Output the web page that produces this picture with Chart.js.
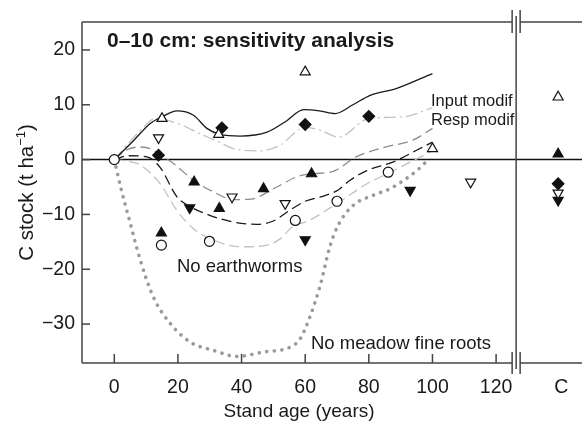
<!DOCTYPE html>
<html>
<head>
<meta charset="utf-8">
<script src="https://cdn.jsdelivr.net/npm/chart.js@4"></script>
<style>
  html, body { margin: 0; padding: 0; background: #fff; }
  canvas { display: block; }
</style>
</head>
<body>
<canvas id="chart" width="582" height="425"></canvas>
<script>
const FONT = "'Liberation Sans', Arial, Helvetica, sans-serif";

// axis setup
const xTicks = [0, 20, 40, 60, 80, 100, 120];
const yTicks = [-30, -20, -10, 0, 10, 20];
const C_POS = 139.5;   // where the control "C" points sit
const C_TICK = 140.5;  // where the "C" label sits
const BREAK_AT = 126.3;

// model curves, [stand age, C stock]
const inputModif = [[0, 0], [6.1, 3.5], [11.3, 6.6], [15, 7.8], [19.7, 8.9], [24.9, 8.1], [29.1, 5.7], [33.3, 4.6], [39.6, 4.3], [48, 5.0], [54, 7.0], [59.5, 9.1], [64.5, 8.9], [69.4, 8.4], [75, 10.0], [80.4, 11.7], [88.8, 13.0], [100, 15.7]];
const respModif = [[0, 0], [8.2, 5.3], [12.9, 7.5], [20.8, 6.4], [27, 4.7], [33, 3.2], [37.4, 2.0], [45.9, 1.6], [52, 2.6], [60, 5.9], [65, 5.3], [70.5, 4.1], [80, 7.5], [91, 7.8], [100, 9.5]];
const grayDashed = [[0, 0], [4, 1.8], [8, 2.3], [11.3, 2.0], [14, 1.0], [18.6, -0.7], [24.9, -3.8], [31.2, -5.9], [37.5, -7.3], [43, -7.2], [51, -5.0], [58, -3.0], [62, -2.6], [69, -2.1], [76, 0.5], [84.6, 2.2], [94, 3.6], [100, 5.7]];
const blackDashed = [[0, 0], [4.5, 0.7], [10.3, 0.5], [14.4, -1.4], [19.7, -6.8], [23.9, -8.6], [30.2, -10.2], [37.5, -11.4], [44.8, -11.8], [50, -11.2], [55, -9.3], [60, -7.6], [66, -6.6], [70.5, -5.5], [74, -3.8], [79.4, -2.0], [87.8, -0.4], [95, 1.7], [100, 3.2]];
const noEarthworms = [[0, 0], [4, -0.3], [8.2, -1.0], [14.4, -4.4], [19.7, -9.3], [24.9, -12.6], [31.2, -14.7], [40, -15.9], [48, -15.6], [52, -14.5], [57, -11.8], [59.5, -11.5], [70, -8.0], [79.4, -4.4], [85.7, -2.6], [98.3, 1.1], [100, 1.6]];
const noFineRoots = [[0, 0], [1.9, -4.8], [4.5, -10.5], [8.2, -18.4], [12.3, -25.1], [17.6, -29.9], [23.9, -33.3], [31.2, -34.8], [38.5, -35.9], [46.9, -35.1], [55.3, -34.2], [58.4, -32.7], [61.6, -28.5], [64.7, -23], [67.8, -15.8], [70.5, -11.8], [75.2, -8.3], [81.4, -6.5], [86.7, -5.3], [90.9, -3.8], [95.1, -2.0], [98, -0.4]];

// measured points, [stand age, C stock]
const openUp = [[15, 7.5], [32.8, 4.6], [60, 16.0], [100, 2.0], [C_POS, 11.4]];
const openDown = [[13.9, 4.0], [37, -6.8], [53.7, -8.0], [112, -4.1], [C_POS, -6.1]];
const diamonds = [[13.9, 0.8], [33.8, 5.8], [60, 6.4], [80, 7.9], [C_POS, -4.4]];
const filledUp = [[14.8, -13.4], [25.1, -4.1], [33, -8.9], [46.9, -5.3], [62, -2.6], [C_POS, 1.0]];
const filledDown = [[23.7, -8.8], [60, -14.6], [93, -5.6], [C_POS, -7.4]];
const openCircles = [[0, 0], [14.8, -15.6], [29.9, -14.9], [56.9, -11.1], [70, -7.6], [86.1, -2.3]];

const pts = arr => arr.map(p => ({ x: p[0], y: p[1] }));

function curve(data, color, dash, width) {
  return {
    type: "line",
    data: pts(data),
    borderColor: color,
    borderWidth: width || 1.3,
    borderDash: dash,
    cubicInterpolationMode: "monotone",
    pointRadius: 0,
    fill: false,
    order: 2,
  };
}

function marks(data, style, fill, rotation, radius) {
  return {
    type: "scatter",
    data: pts(data),
    pointStyle: style,
    pointRotation: rotation || 0,
    pointRadius: radius || 5.8,
    pointBackgroundColor: fill,
    pointBorderColor: "#111",
    pointBorderWidth: 1.2,
    showLine: false,
    order: 1,
  };
}

function seg(ctx, x1, y1, x2, y2) {
  ctx.beginPath();
  ctx.moveTo(x1, y1);
  ctx.lineTo(x2, y2);
  ctx.stroke();
}

const framePlugin = {
  id: "frame",
  beforeDatasetsDraw(chart) {
    const { ctx, chartArea: a, scales } = chart;
    const y0 = scales.y.getPixelForValue(0);
    ctx.save();
    ctx.strokeStyle = "#111";
    ctx.lineWidth = 1.5;
    seg(ctx, a.left, y0, a.right, y0);
    ctx.restore();
  },
  afterDraw(chart) {
    const { ctx, chartArea: a, scales } = chart;
    const xs = scales.x, ys = scales.y;
    const xb = xs.getPixelForValue(BREAK_AT);
    ctx.save();
    ctx.strokeStyle = "#444";
    ctx.lineWidth = 1.5;
    // frame with the axis break
    seg(ctx, a.left, a.top, xb - 4, a.top);
    seg(ctx, xb + 4, a.top, a.right, a.top);
    seg(ctx, a.left, a.bottom, xb - 4, a.bottom);
    seg(ctx, xb + 4, a.bottom, a.right, a.bottom);
    seg(ctx, a.left, a.top, a.left, a.bottom);
    seg(ctx, xb, a.top - 6, xb, a.bottom + 6);
    seg(ctx, xb - 4, a.top - 12, xb - 4, a.top + 11);
    seg(ctx, xb + 4, a.top - 12, xb + 4, a.top + 11);
    seg(ctx, xb - 4, a.bottom - 11, xb - 4, a.bottom + 11);
    seg(ctx, xb + 4, a.bottom - 11, xb + 4, a.bottom + 11);
    // inward ticks
    xTicks.forEach(v => {
      const px = xs.getPixelForValue(v);
      seg(ctx, px, a.bottom, px, a.bottom - 9);
    });
    yTicks.forEach(v => {
      const py = ys.getPixelForValue(v);
      seg(ctx, a.left, py, a.left + 8, py);
    });
    ctx.restore();

    // texts
    ctx.save();
    ctx.fillStyle = "#1a1a1a";
    ctx.textBaseline = "alphabetic";
    ctx.textAlign = "left";
    ctx.font = "bold 21px " + FONT;
    ctx.fillText("0\u201310 cm: sensitivity analysis", 107, 47);
    ctx.font = "16.5px " + FONT;
    ctx.fillText("Input modif", 431, 106);
    ctx.fillText("Resp modif", 431, 125);
    ctx.font = "18.5px " + FONT;
    ctx.fillText("No earthworms", 177, 272);
    ctx.fillText("No meadow fine roots", 311, 349);

    // x axis title, centred on the age panel
    ctx.font = "19px " + FONT;
    ctx.textAlign = "center";
    ctx.fillText("Stand age (years)", (a.left + xb) / 2, 417);

    // y axis title with superscript
    ctx.translate(33, (a.top + a.bottom) / 2);
    ctx.rotate(-Math.PI / 2);
    ctx.textAlign = "left";
    const main = "C stock (t ha";
    const sup = "\u22121";
    const close = ")";
    ctx.font = "20.5px " + FONT;
    const w1 = ctx.measureText(main).width;
    const w3 = ctx.measureText(close).width;
    ctx.font = "13px " + FONT;
    const w2 = ctx.measureText(sup).width;
    let x0 = -(w1 + w2 + w3) / 2;
    ctx.font = "20.5px " + FONT;
    ctx.fillText(main, x0, 0);
    ctx.font = "13px " + FONT;
    ctx.fillText(sup, x0 + w1, -8);
    ctx.font = "20.5px " + FONT;
    ctx.fillText(close, x0 + w1 + w2, 0);
    ctx.restore();
  },
};

new Chart(document.getElementById("chart"), {
  type: "scatter",
  data: {
    datasets: [
      curve(inputModif, "#1a1a1a", []),
      curve(respModif, "#c2c2c2", [12, 4, 2, 4]),
      curve(grayDashed, "#8c8c8c", [10, 5]),
      curve(blackDashed, "#1a1a1a", [10, 5]),
      curve(noEarthworms, "#c2c2c2", [10, 5]),
      {
        ...curve(noFineRoots, "#9a9a9a", [0.1, 7.5], 3.6),
        borderCapStyle: "round",
      },
      marks(openUp, "triangle", "#fff"),
      marks(openDown, "triangle", "#fff", 180),
      marks(diamonds, "rectRot", "#111"),
      marks(filledUp, "triangle", "#111"),
      marks(filledDown, "triangle", "#111", 180),
      marks(openCircles, "circle", "#fff", 0, 5),
    ],
  },
  options: {
    responsive: false,
    animation: false,
    layout: { autoPadding: false, padding: { top: 22, right: 0, bottom: 0, left: 0 } },
    plugins: { legend: { display: false }, tooltip: { enabled: false } },
    scales: {
      x: {
        type: "linear",
        min: -10.15,
        max: 147,
        grid: { display: false, drawTicks: false },
        border: { display: false },
        afterBuildTicks: (s) => {
          s.ticks = xTicks.concat([C_TICK]).map((v) => ({ value: v }));
        },
        afterFit: (s) => {
          s.height = 62;
          s.paddingLeft = 0;
          s.paddingRight = 0;
        },
        ticks: {
          autoSkip: false,
          maxRotation: 0,
          padding: 13,
          color: "#1a1a1a",
          font: { family: FONT, size: 19.5 },
          callback: (v) => (v === C_TICK ? "C" : String(v)),
        },
      },
      y: {
        type: "linear",
        min: -37.1,
        max: 25.1,
        grid: { display: false, drawTicks: false },
        border: { display: false },
        afterBuildTicks: (s) => {
          s.ticks = yTicks.map((v) => ({ value: v }));
        },
        afterFit: (s) => {
          s.width = 82;
          s.paddingTop = 0;
          s.paddingBottom = 0;
        },
        ticks: {
          padding: 7,
          color: "#1a1a1a",
          font: { family: FONT, size: 19.5 },
          callback: (v) => (v < 0 ? "\u2212" + Math.abs(v) : String(v)),
        },
      },
    },
  },
  plugins: [framePlugin],
});
</script>
</body>
</html>
